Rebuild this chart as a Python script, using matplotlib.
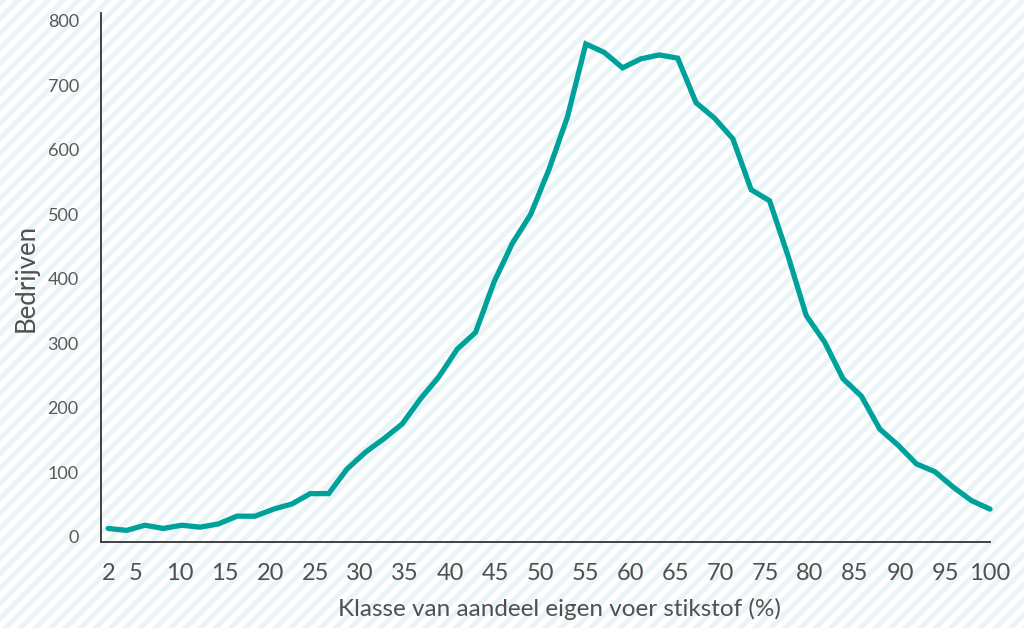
import matplotlib
matplotlib.use("Agg")
import matplotlib.pyplot as plt
from matplotlib.patches import Polygon

plt.rcParams['font.family'] = ['Lato', 'DejaVu Sans']

# Class centres (49 classes spread from 2 to 100 %)
klasse = [2.0, 4.04, 6.08, 8.12, 10.17, 12.21, 14.25, 16.29, 18.33, 20.38,
          22.42, 24.46, 26.5, 28.54, 30.58, 32.62, 34.67, 36.71, 38.75, 40.79,
          42.83, 44.88, 46.92, 48.96, 51.0, 53.04, 55.08, 57.12, 59.17, 61.21,
          63.25, 65.29, 67.33, 69.38, 71.42, 73.46, 75.5, 77.54, 79.58, 81.62,
          83.67, 85.71, 87.75, 89.79, 91.83, 93.88, 95.92, 97.96, 100.0]
bedrijven = [13, 10, 18, 13, 18, 15, 20, 32, 32, 43,
             51, 67, 67, 105, 131, 152, 175, 214, 248, 291,
             317, 395, 455, 500, 570, 651, 764, 751, 727, 741,
             747, 742, 673, 649, 617, 538, 521, 436, 343, 302,
             245, 218, 167, 142, 113, 101, 77, 56, 43]
xticks = [2, 5, 10, 15, 20, 25, 30, 35, 40, 45, 50, 55, 60, 65, 70, 75, 80, 85, 90, 95, 100]
yticks = [0, 100, 200, 300, 400, 500, 600, 700, 800]

W, H = 1024, 628
fig = plt.figure(figsize=(W / 100, H / 100), dpi=100)
fig.patch.set_facecolor('white')

# striped background
bg = fig.add_axes([0, 0, 1, 1], zorder=-10)
bg.set_xlim(0, W)
bg.set_ylim(0, H)
bg.axis('off')
period = 15.0
sw = 7.0
c = -H - period
while c < W + period:
    poly = Polygon([(c, 0), (c + sw, 0), (c + sw + H, H), (c + H, H)],
                   closed=True, facecolor='#e8f4f5', edgecolor='none')
    bg.add_patch(poly)
    c += period

ax = fig.add_axes([101 / W, 1 - 542 / H, (990 - 101) / W, (542 - 13) / H])
ax.patch.set_alpha(0)
ax.plot(klasse, bedrijven, color='#00a19b', lw=3.8, solid_capstyle='round',
        solid_joinstyle='miter', clip_on=False)
ax.set_xlim(1.2, 100)
ax.set_ylim(-8, 812)
ax.set_xticks(xticks)
ax.set_xticklabels([str(v) for v in xticks])
ax.set_yticks(yticks)
ax.set_yticklabels([str(v) for v in yticks])
ax.tick_params(axis='x', length=0, pad=15, labelsize=17, labelcolor='#505050')
ax.tick_params(axis='y', length=0, pad=16, labelsize=13, labelcolor='#5a5a5a')
for s in ['top', 'right']:
    ax.spines[s].set_visible(False)
for s in ['left', 'bottom']:
    ax.spines[s].set_color('#333333')
    ax.spines[s].set_linewidth(1.3)
ax.set_xlabel('Klasse van aandeel eigen voer stikstof (%)', fontsize=17.5,
              color='#505050')
ax.xaxis.set_label_coords(0.516, -0.106)
ax.set_ylabel('Bedrijven', fontsize=18.5, color='#505050')
ax.yaxis.set_label_coords(-(101 - 26) / 889 * (889 / 529) * (529 / 889), 0.5)
ax.yaxis.label.set_verticalalignment('center')

fig.savefig('out.png', dpi=100, facecolor='white')
